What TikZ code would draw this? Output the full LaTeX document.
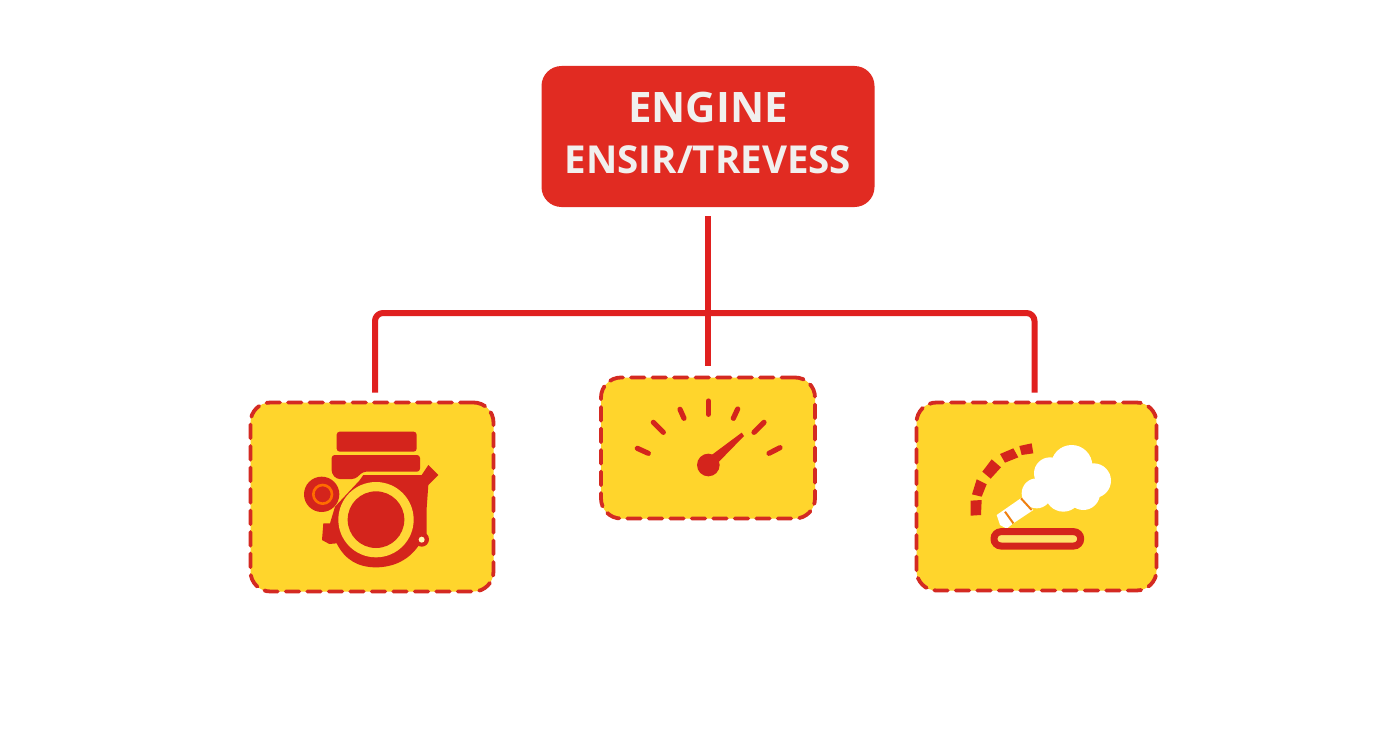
\documentclass[tikz,border=0pt]{standalone}
\usepackage{fontspec}
\setmainfont{Open Sans}
\definecolor{topred}{HTML}{E12B22}
\definecolor{linered}{HTML}{E0201F}
\definecolor{dashred}{HTML}{D42A22}
\definecolor{iconred}{HTML}{D4241C}
\definecolor{boxyellow}{HTML}{FFD52C}
\definecolor{paletext}{HTML}{F1F0EE}
\tikzset{
  topbox/.style={rectangle,rounded corners=20,fill=topred,minimum width=333,minimum height=141,inner sep=0,align=center,text=paletext,font=\fontsize{38.5}{51}\selectfont\bfseries},
  iconbox/.style={rectangle,rounded corners=20,fill=boxyellow,draw=dashred,line width=3.8,line cap=round,dash pattern=on 13.5 off 8,inner sep=0},
  conn/.style={draw=linered,line width=6,line join=round},
  tick/.style={draw=iconred,line width=5.2,line cap=round},
  zoomed/.style={x=0.33333pt,y=-0.33333pt}
}
\begin{document}
\begin{tikzpicture}[x=1pt,y=-1pt]
\useasboundingbox[fill=white] (0,0) rectangle (1392,752);

\coordinate (bus) at (708,313);
\node[iconbox,minimum width=243,minimum height=189] (leftbox) at (372,497) {};
\node[iconbox,minimum width=214,minimum height=141] (midbox) at (708,448) {};
\node[iconbox,minimum width=240,minimum height=188] (rightbox) at (1036.5,496.5) {};
\node[topbox] (topnode) at (708,136.5) {{\fontsize{42}{51}\selectfont ENGINE}\\ENSIR/TREVESS\rule[-7pt]{0pt}{1pt}};

\draw[conn,shorten <=9,shorten >=10] (topnode.south) -- (midbox.north);
\draw[conn,rounded corners=8,shorten <=8,shorten >=8] ([xshift=3]leftbox.north) |- (bus) -| ([xshift=-2]rightbox.north);

% engine icon
\begin{scope}[shift={(280,410)},zoomed]
  \fill[iconred,rounded corners=3] (170,65) rectangle (410,125);
  \fill[iconred,rounded corners=3] (155,135) -- (420,135) -- (420,185) -- (250,185) -- (225,207) -- (170,207) -- (155,190) -- cycle;
  \fill[iconred] (238,212) -- (250,195) -- (425,195) -- (445,165) -- (475,195) -- (445,225) -- (440,295) -- (440,380) -- (420,400)
     .. controls (390,450) and (340,472) .. (288,472) .. controls (235,472) and (195,450) .. (170,400)
     -- (148,402) -- (126,390) -- (130,340) -- (150,340) -- (165,290) -- cycle;
  \fill[iconred] (125,253) circle [radius=53];
  \draw[draw=orange!85!red,line width=2.6] (128,253) circle [radius=28];
  \fill[iconred] (425,388) circle [radius=22];
  \fill[yellow!30!white] (425,389) circle [radius=9];
  \fill[boxyellow!95!white] (288,329) circle [radius=113];
  \fill[iconred] (288,329) circle [radius=85];
\end{scope}

% gauge icon
\begin{scope}[shift={(595,370)},zoomed]
  \draw[tick] (127,235) -- (160,250);
  \draw[tick] (175,157) -- (205,187);
  \draw[tick] (255,118) -- (267,145);
  \draw[tick] (340,93) -- (340,133);
  \draw[tick] (428,117) -- (415,145);
  \draw[tick] (507,157) -- (477,187);
  \draw[tick] (555,233) -- (522,250);
  \fill[iconred] (340,285) circle [radius=34];
  \fill[iconred,line join=round] (350,255) -- (440,188) -- (447,198) -- (372,275) -- cycle;
\end{scope}

% exhaust icon
\begin{scope}[shift={(950,430)},zoomed]
  \fill[iconred] (62,212) -- (95,210) -- (93,255) -- (62,257) -- cycle;
  \fill[iconred] (80,148) -- (110,163) -- (95,200) -- (66,193) -- cycle;
  \fill[iconred] (125,88) -- (153,112) -- (122,146) -- (97,125) -- cycle;
  \fill[iconred] (190,55) -- (205,82) -- (165,98) -- (150,72) -- cycle;
  \fill[iconred] (245,40) -- (250,70) -- (215,75) -- (208,48) -- cycle;
  \fill[white] (365,107) circle [radius=62];
  \fill[white] (300,130) circle [radius=48];
  \fill[white] (431,152) circle [radius=52];
  \fill[white] (260,190) circle [radius=45];
  \fill[white] (340,190) circle [radius=55];
  \fill[white] (400,190) circle [radius=50];
  \fill[white] (140,255) -- (215,203) -- (250,240) -- (190,280) -- (170,296) -- (150,285) -- cycle;
  \draw[draw=orange!75!brown,line width=2] (165,245) -- (190,280);
  \draw[draw=orange!75!brown,line width=2] (213,205) -- (245,240);
  \draw[draw=iconred,line width=7,rounded corners=7,fill=boxyellow!70!white] (132,305) rectangle (392,348);
\end{scope}
\end{tikzpicture}
\end{document}
